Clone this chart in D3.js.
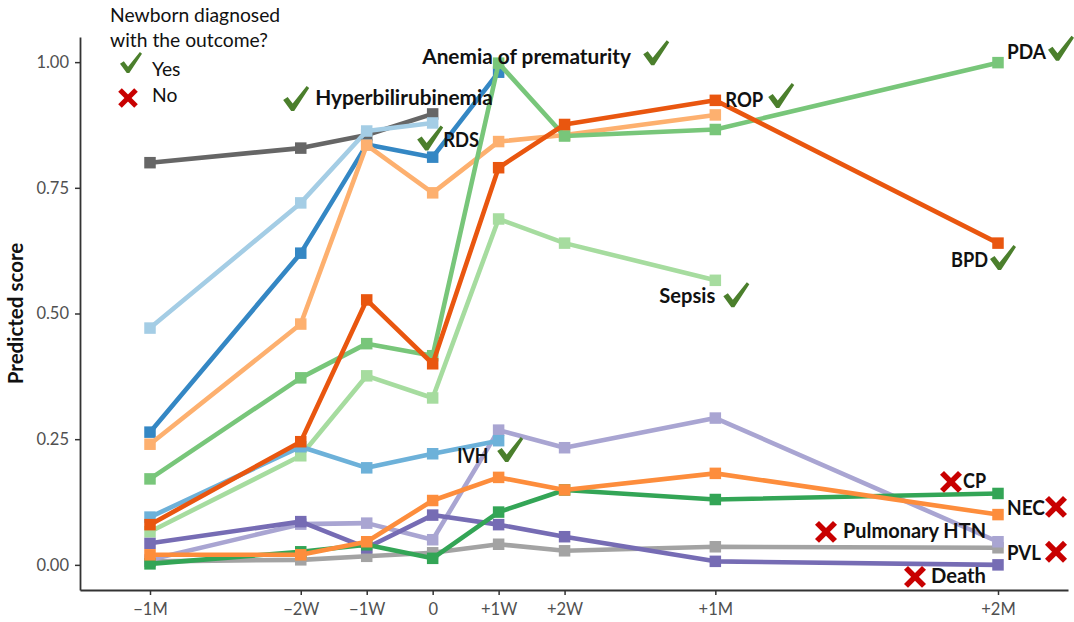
<!DOCTYPE html>
<html>
<head>
<meta charset="utf-8">
<script src="https://cdn.jsdelivr.net/npm/d3@7"></script>
<style>
  html, body { margin: 0; padding: 0; background: #ffffff; }
  svg { display: block; }
</style>
</head>
<body>
<svg id="chart" width="1074" height="622"></svg>
<script>
// ---------------- DATA ----------------
const timeLabels = ["\u22121M", "\u22122W", "\u22121W", "0", "+1W", "+2W", "+1M", "+2M"];
const timeDays   = [-30, -14, -7, 0, 7, 14, 30, 60];
const yTicks     = [0, 0.25, 0.5, 0.75, 1.0];

const seriesNames = ["Pulmonary HTN", "PVL", "Death", "CP", "NEC", "Sepsis", "IVH",
                     "Hyperbilirubinemia", "RDS", "Anemia of prematurity", "ROP", "PDA", "BPD"];
const seriesColors = ["#a3a3a3", "#a9a5d2", "#766cb4", "#33a556", "#fd8d3c", "#a6dc9f", "#6db1d9",
                      "#666666", "#a4cde5", "#3487c4", "#fdb06f", "#78c67a", "#e9560f"];
// values at timeDays (series stop where the observation ends)
const valPulmHTN  = [0.007, 0.010, 0.017, 0.024, 0.041, 0.028, 0.036, 0.034];
const valPVL      = [0.010, 0.081, 0.083, 0.050, 0.268, 0.233, 0.292, 0.046];
const valDeath    = [0.043, 0.086, 0.034, 0.099, 0.080, 0.056, 0.007, 0.000];
const valCP       = [0.002, 0.026, 0.040, 0.013, 0.105, 0.149, 0.130, 0.142];
const valNEC      = [0.020, 0.020, 0.046, 0.128, 0.174, 0.149, 0.182, 0.100];
const valSepsis   = [0.066, 0.217, 0.376, 0.332, 0.688, 0.640, 0.566];
const valIVH      = [0.095, 0.235, 0.193, 0.221, 0.247];
const valHyperbil = [0.800, 0.829, 0.855, 0.897];
const valRDS      = [0.471, 0.720, 0.863, 0.879];
const valAnemia   = [0.264, 0.620, 0.836, 0.811, 0.980];
const valROP      = [0.240, 0.479, 0.835, 0.740, 0.842, 0.855, 0.895];
const valPDA      = [0.171, 0.372, 0.440, 0.416, 0.998, 0.853, 0.866, 0.999];
const valBPD      = [0.080, 0.245, 0.527, 0.400, 0.790, 0.876, 0.924, 0.640];
const seriesValues = [valPulmHTN, valPVL, valDeath, valCP, valNEC, valSepsis, valIVH,
                      valHyperbil, valRDS, valAnemia, valROP, valPDA, valBPD];

// annotation: which series, diagnosed (yes/no)
const annotNames = ["Hyperbilirubinemia", "RDS", "Anemia of prematurity", "IVH", "ROP", "BPD", "PDA",
                    "Sepsis", "CP", "NEC", "PVL", "Pulmonary HTN", "Death"];
const annotYes   = [true, true, true, true, true, true, true, true, false, false, false, false, false];

// ---------------- LAYOUT ----------------
const svg = d3.select("#chart");
const plotLeft = 80, plotRight = 1068, plotTop = 37, plotBottom = 590;

const x = d3.scaleLinear().domain([-30, 60]).range([150, 998]);
x.domain([x.invert(plotLeft), x.invert(plotRight)]).range([plotLeft, plotRight]);
const y = d3.scaleLinear().domain([-0.05, 1.05]).range([plotBottom, plotTop]);

const FONT = "Lato, 'Open Sans', 'DejaVu Sans', sans-serif";

// ---------------- AXES ----------------
const yAxis = d3.axisLeft(y).tickValues(yTicks).tickFormat(d3.format(".2f")).tickSize(5).tickSizeOuter(0).tickPadding(6);
const gy = svg.append("g").attr("transform", `translate(${plotLeft},0)`).call(yAxis);
const xAxis = d3.axisBottom(x).tickValues(timeDays).tickFormat((d, i) => timeLabels[i]).tickSize(5).tickSizeOuter(0).tickPadding(8);
const gx = svg.append("g").attr("transform", `translate(0,${plotBottom})`).call(xAxis);

[gx, gy].forEach(g => {
  g.select(".domain").attr("stroke", "#333333").attr("stroke-width", 1.8);
  g.selectAll(".tick line").attr("stroke", "#333333").attr("stroke-width", 1.5);
  g.selectAll(".tick text").attr("fill", "#505050").style("font-family", FONT).style("font-size", "16.5px");
});

svg.append("text")
  .attr("transform", `translate(23,${(y(0) + y(1)) / 2}) rotate(-90)`)
  .attr("text-anchor", "middle")
  .style("font-family", FONT).style("font-weight", "bold").style("font-size", "20.5px")
  .attr("fill", "#111")
  .text("Predicted score");

// ---------------- LINES ----------------
const line = d3.line().x(d => x(d[0])).y(d => y(d[1]));
const series = seriesNames.map((n, i) => ({
  name: n, color: seriesColors[i],
  pts: seriesValues[i].map((v, j) => [timeDays[j], v])
}));

const gLines = svg.append("g");
series.forEach(s => {
  const g = gLines.append("g");
  g.append("path").attr("d", line(s.pts)).attr("fill", "none")
    .attr("stroke", s.color).attr("stroke-width", 4.6).attr("stroke-linejoin", "round");
  const sz = 11.5;
  g.selectAll("rect").data(s.pts).join("rect")
    .attr("x", d => x(d[0]) - sz / 2).attr("y", d => y(d[1]) - sz / 2)
    .attr("width", sz).attr("height", sz).attr("fill", s.color);
});

// ---------------- MARK SHAPES ----------------
function drawCheck(g, x0, y0, w, h) {
  const sx = w / 26, sy = h / 25;
  const p = [[0, 14], [4.5, 11], [9.5, 17.5], [23.5, 0], [26, 2], [11, 25], [8, 25]];
  g.append("path")
    .attr("d", "M" + p.map(q => [x0 + q[0] * sx, y0 + q[1] * sy].join(",")).join("L") + "Z")
    .attr("fill", "#4b7f2c");
}
function drawCross(g, x0, y0, s) {
  const c = g.append("g").attr("stroke", "#c80000").attr("stroke-width", s * 0.28).attr("stroke-linecap", "butt");
  c.append("line").attr("x1", x0 + 1).attr("y1", y0 + 1).attr("x2", x0 + s - 1).attr("y2", y0 + s - 1);
  c.append("line").attr("x1", x0 + s - 1).attr("y1", y0 + 1).attr("x2", x0 + 1).attr("y2", y0 + s - 1);
}

// ---------------- ANNOTATIONS ----------------
// offsets (px) relative to the last point of each series: [text dx, text dy, mark dx, mark dy, max text width]
const annotOffsets = {
  "Hyperbilirubinemia": [-117.5, -8.8, -149.5, -28, 178],
  "RDS": [10.5, 23.6, -15.5, 2.6, 36],
  "Anemia of prematurity": [-76.4, -8, 144.6, -32, 211],
  "IVH": [-41.4, 22.2, -1.4, -3.8, 31],
  "ROP": [9.9, -7.8, 52.9, -31.8, 38],
  "BPD": [-47, 24, -8, 2, 37],
  "PDA": [9, -4, 50, -27, 39],
  "Sepsis": [-56, 23, 8, 2, 56],
  "CP": [-35, -5.6, -57, -21.6, 23],
  "NEC": [9, 0.3, 48, -17.7, 38],
  "PVL": [9, 18, 48, 0, 34],
  "Pulmonary HTN": [-155, -9.9, -182, -25.9, 143],
  "Death": [-67, 18, -93, 2, 55]
};
const gAnn = svg.append("g");
annotNames.forEach((n, i) => {
  const s = series.find(d => d.name === n);
  const last = s.pts[s.pts.length - 1];
  const ex = x(last[0]), ey = y(last[1]);
  const o = annotOffsets[n];
  const t = gAnn.append("text").attr("x", ex + o[0]).attr("y", ey + o[1])
    .style("font-family", FONT).style("font-weight", "bold").style("font-size", "20.8px")
    .attr("fill", "#111").text(n);
  const len = t.node().getComputedTextLength();
  if (len > o[4] + 1) t.attr("textLength", o[4]).attr("lengthAdjust", "spacingAndGlyphs");
  if (annotYes[i]) drawCheck(gAnn, ex + o[2], ey + o[3], 26, 25);
  else drawCross(gAnn, ex + o[2], ey + o[3], 20);
});

// ---------------- LEGEND ----------------
const gLeg = svg.append("g");
gLeg.append("text").attr("x", 110).attr("y", 22)
  .style("font-family", FONT).style("font-size", "19.3px").attr("fill", "#111").text("Newborn diagnosed");
gLeg.append("text").attr("x", 110).attr("y", 47)
  .style("font-family", FONT).style("font-size", "19.3px").attr("fill", "#111").text("with the outcome?");
drawCheck(gLeg, 120, 52, 22, 21);
gLeg.append("text").attr("x", 152).attr("y", 76)
  .style("font-family", FONT).style("font-size", "19.3px").attr("fill", "#111").text("Yes");
drawCross(gLeg, 119, 89, 18);
gLeg.append("text").attr("x", 152).attr("y", 102)
  .style("font-family", FONT).style("font-size", "19.3px").attr("fill", "#111").text("No");
</script>
</body>
</html>
